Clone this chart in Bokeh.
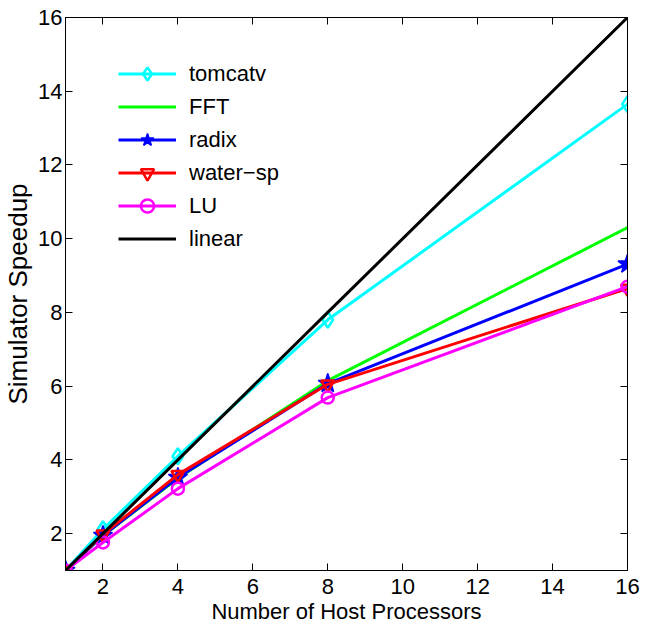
from bokeh.plotting import figure
from bokeh.models import LinearAxis, FixedTicker, Range1d, Legend, LegendItem, CustomLabelingPolicy
from bokeh.embed import file_html
from bokeh.resources import INLINE

procs = [1, 2, 4, 8, 16]
tomcatv = [1.0, 2.12, 4.1, 7.8, 13.65]
fft = [1.0, 1.95, 3.5, 6.15, 10.3]
radix = [1.0, 1.95, 3.52, 6.07, 9.31]
water_sp = [1.0, 1.98, 3.6, 6.05, 8.65]
lu = [1.0, 1.76, 3.22, 5.69, 8.7]
linear = [1, 2, 4, 8, 16]
ticks = [2, 4, 6, 8, 10, 12, 14, 16]

FONT = "Liberation Sans"

p = figure(width=654, height=631, output_backend="svg", toolbar_location=None,
           x_range=Range1d(1, 16), y_range=Range1d(1, 16),
           min_border_left=65, min_border_right=27, min_border_top=17, min_border_bottom=61)
p.xgrid.visible = False
p.ygrid.visible = False
p.outline_line_color = "black"
p.outline_line_width = 1
p.background_fill_color = "white"
p.border_fill_color = "white"

for ax in (p.xaxis[0], p.yaxis[0]):
    ax.ticker = FixedTicker(ticks=ticks)
    ax.major_tick_in = 7
    ax.major_tick_out = 0
    ax.minor_tick_in = 0
    ax.minor_tick_out = 0
    ax.major_label_text_font = FONT
    ax.major_label_text_font_size = "22px"
    ax.major_label_text_color = "black"
    ax.axis_label_text_font = FONT
    ax.axis_label_text_font_style = "normal"
    ax.axis_label_text_color = "black"
    ax.axis_line_color = "black"
p.xaxis[0].axis_label = "Number of Host Processors"
p.xaxis[0].axis_label_text_font_size = "22px"
p.xaxis[0].major_label_standoff = 8
p.xaxis[0].axis_label_standoff = 2
p.yaxis[0].axis_label = "Simulator Speedup"
p.yaxis[0].axis_label_text_font_size = "26px"
p.yaxis[0].major_label_standoff = 3
p.yaxis[0].axis_label_standoff = 2

no_labels = CustomLabelingPolicy(code="for (const i of indices) { indices.unset(i) } return indices")
for loc in ("right", "above"):
    a = LinearAxis(ticker=FixedTicker(ticks=ticks), major_tick_in=7, major_tick_out=0,
                   minor_tick_in=0, minor_tick_out=0, major_label_policy=no_labels,
                   major_label_standoff=0, axis_line_color="black")
    p.add_layout(a, loc)

items = []
l1 = p.line(procs, tomcatv, line_color="#00FFFF", line_width=3)
m1 = p.scatter(procs, tomcatv, marker="diamond", size=16, line_color="#00FFFF",
               fill_color=None, line_width=2.5)
items.append(LegendItem(label="tomcatv", renderers=[l1, m1]))
l2 = p.line(procs, fft, line_color="#00FF00", line_width=3)
items.append(LegendItem(label="FFT", renderers=[l2]))
l3 = p.line(procs, radix, line_color="#0000FF", line_width=3)
m3 = p.scatter(procs, radix, marker="star", size=20, line_color="#0000FF",
               fill_color="#0000FF", line_width=1.5)
items.append(LegendItem(label="radix", renderers=[l3, m3]))
l4 = p.line(procs, water_sp, line_color="#FF0000", line_width=3)
m4 = p.scatter(procs, water_sp, marker="inverted_triangle", size=13, line_color="#FF0000",
               fill_color=None, line_width=2.5)
items.append(LegendItem(label="water\u2212sp", renderers=[l4, m4]))
l5 = p.line(procs, lu, line_color="#FF00FF", line_width=3)
m5 = p.scatter(procs, lu, marker="circle", size=12, line_color="#FF00FF",
               fill_color=None, line_width=2.5)
items.append(LegendItem(label="LU", renderers=[l5, m5]))
l6 = p.line(procs, linear, line_color="black", line_width=3)
items.append(LegendItem(label="linear", renderers=[l6]))

legend = Legend(items=items, location=(53, 315), border_line_color=None,
                background_fill_alpha=0, glyph_width=58, glyph_height=33, spacing=0,
                padding=5, margin=0, label_standoff=13, label_text_font=FONT,
                label_text_font_size="22px", label_text_color="black", label_height=33)
p.add_layout(legend, "center")

open("out.html", "w").write(file_html(p, INLINE))
